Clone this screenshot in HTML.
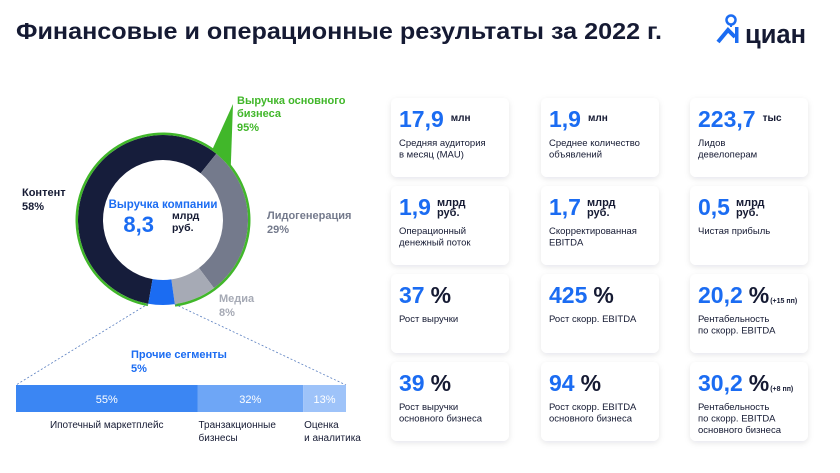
<!DOCTYPE html>
<html><head><meta charset="utf-8"><style>
html,body{margin:0;padding:0;background:#fff;}
svg{display:block;font-family:"Liberation Sans","DejaVu Sans",sans-serif;}
</style></head><body>
<svg id="s" width="840" height="473" viewBox="0 0 840 473" xmlns="http://www.w3.org/2000/svg">
<defs>
<filter id="sh" x="-20%" y="-20%" width="140%" height="140%"><feDropShadow dx="0" dy="2" stdDeviation="3" flood-color="#1a2040" flood-opacity="0.10"/></filter>
</defs>
<text x="16" y="39" font-size="23" font-weight="bold" fill="#151a33" textLength="646" lengthAdjust="spacingAndGlyphs">Финансовые и операционные результаты за 2022 г.</text>
<g>
<circle cx="731" cy="20" r="4.5" fill="none" stroke="#1b6cf2" stroke-width="2.5"/>
<path d="M731 24 L731 27" stroke="#1b6cf2" stroke-width="2"/>
<path d="M718 42 L728 30 L735 37" fill="none" stroke="#1b6cf2" stroke-width="4" stroke-linejoin="miter"/>
<rect x="735" y="27" width="3.5" height="16" fill="#1b6cf2"/>
<text x="745" y="43" font-size="27" fill="#151a33" font-weight="bold" textLength="61" lengthAdjust="spacingAndGlyphs">циан</text>
</g>
<g id="donut"></g>
<g id="bar"></g>
<g id="cards"></g>
</svg>
<script>
const NS='http://www.w3.org/2000/svg';
const segNames=['Контент','Лидогенерация','Медиа','Прочие сегменты'];
const segValues=[58,29,8,5];
const segColors=['#161d3b','#747a8c','#a6aab5','#1b6cf2'];
const subNames=['Ипотечный маркетплейс','Транзакционные бизнесы','Оценка и аналитика'];
const subValues=[55,32,13];
const subColors=['#3b86f3','#6ea6f6','#9ec3f9'];
function mk(t,a,p){const e=document.createElementNS(NS,t);for(const k in a)e.setAttribute(k,a[k]);(p||document.getElementById('s')).appendChild(e);return e;}
function txt(p,x,y,s,size,fill,w,anchor){const e=mk('text',{x:x,y:y,'font-size':size,fill:fill,'font-weight':w||'normal','text-anchor':anchor||'start'},p);e.textContent=s;return e;}
const cx=163,cy=220,r0=60,r1=85;
function pt(r,a){const rad=(a-90)*Math.PI/180;return [cx+r*Math.cos(rad),cy+r*Math.sin(rad)];}
function arc(ri,ro,a0,a1){const l=(a1-a0)>180?1:0;const p1=pt(ro,a0),p2=pt(ro,a1),p3=pt(ri,a1),p4=pt(ri,a0);
return `M${p1} A${ro} ${ro} 0 ${l} 1 ${p2} L${p3} A${ri} ${ri} 0 ${l} 0 ${p4}Z`;}
const dg=document.getElementById('donut');
const total=segValues.reduce((a,b)=>a+b,0);
let a=190;const angs=[];
segValues.forEach((v,i)=>{const sp=v/total*360;angs.push([a,a+sp]);
const p=mk('path',{d:arc(r0,r1,a,a+sp),fill:segColors[i]},dg);


a+=sp;});
const core=angs[0][0],coreEnd=angs[segValues.length-2][1];
const gp=mk('path',{d:arc(r1,r1+2.5,core,coreEnd),fill:'#41b72a'},dg);


const t1=pt(r1+1,core+205),t2=pt(r1+1,core+222);
const cl=mk('path',{d:`M${t1} L233 104 L${t2}Z`,fill:'#41b72a'},dg);


txt(dg,cx,208,'Выручка компании',11.5,'#1b6cf2','bold','middle');
txt(dg,154,232,'8,3',22,'#1b6cf2','bold','end');
txt(dg,172,219,'млрд',10.5,'#151a33','bold');
txt(dg,172,231,'руб.',10.5,'#151a33','bold');
txt(dg,237,104,'Выручка основного',11,'#41b72a','bold');
txt(dg,237,117,'бизнеса',11,'#41b72a','bold');
txt(dg,237,131,'95%',11,'#41b72a','bold');
txt(dg,22,196,'Контент',11,'#151a33','bold');
txt(dg,22,210,'58%',11,'#151a33','bold');
txt(dg,267,219,'Лидогенерация',11,'#747a8c','bold');
txt(dg,267,233,'29%',11,'#747a8c','bold');
txt(dg,219,302,'Медиа',11,'#a6aab5','bold');
txt(dg,219,316,'8%',11,'#a6aab5','bold');
txt(dg,131,358,'Прочие сегменты',11,'#1b6cf2','bold');
txt(dg,131,372,'5%',11,'#1b6cf2','bold');
const bo=angs[3],bp0=pt(r1,bo[0]),bp1=pt(r1,bo[1]);
const bx=16,bw=330,by=385,bh=27;
mk('line',{x1:bp1[0],y1:bp1[1],x2:bx,y2:by,stroke:'#5a7fc0','stroke-width':0.8,'stroke-dasharray':'2,2'},dg);
mk('line',{x1:bp0[0],y1:bp0[1],x2:bx+bw,y2:by,stroke:'#5a7fc0','stroke-width':0.8,'stroke-dasharray':'2,2'},dg);
const bg=document.getElementById('bar');
const st=subValues.reduce((a,b)=>a+b,0);
let x=bx;
const lblY=[[428],[428,441],[428,441]];
const lbls=[['Ипотечный маркетплейс'],['Транзакционные','бизнесы'],['Оценка','и аналитика']];
subValues.forEach((v,i)=>{const w=v/st*bw;
const r=mk('rect',{x:x,y:by,width:w,height:bh,fill:subColors[i]},bg);


txt(bg,x+w/2,by+18,v+'%',11,'#fff','normal','middle');
const lx=i==0?x+w/2:x+1;const an=i==0?'middle':'start';
lbls[i].forEach((s,j)=>txt(bg,lx,lblY[i][j],s,10,'#151a33','normal',an));
x+=w;});
const cardBig=['17,9','1,9','223,7','1,9','1,7','0,5','37','425','20,2','39','94','30,2'];
const cardUnit=[['млн'],['млн'],['тыс'],['млрд','руб.'],['млрд','руб.'],['млрд','руб.'],['%'],['%'],['%'],['%'],['%'],['%']];
const cardNote=['','','','','','','','','(+15 пп)','','','(+8 пп)'];
const cardDesc=[['Средняя аудитория','в месяц (MAU)'],['Среднее количество','объявлений'],['Лидов','девелоперам'],['Операционный','денежный поток'],['Скорректированная','EBITDA'],['Чистая прибыль'],['Рост выручки'],['Рост скорр. EBITDA'],['Рентабельность','по скорр.  EBITDA'],['Рост выручки','основного бизнеса'],['Рост скорр. EBITDA','основного бизнеса'],['Рентабельность','по скорр.  EBITDA','основного бизнеса']];
const cg=document.getElementById('cards');
const colX=[391,541,690],rowY=[98,186,274,362];
cardBig.forEach((b,i)=>{const X=colX[i%3],Y=rowY[Math.floor(i/3)];
const g=mk('g',{},cg);


mk('rect',{x:X,y:Y,width:118,height:79,rx:6,fill:'#fff',filter:'url(#sh)'},g);
const bt=txt(g,X+8,Y+29,b,23,'#1b6cf2','bold');
const bw2=bt.getComputedTextLength();
const u=cardUnit[i];
if(u[0]=='%'){const pc=txt(g,X+8+bw2+6,Y+29,'%',23,'#151a33','bold');
 if(cardNote[i]){txt(g,X+8+bw2+6+pc.getComputedTextLength()+1,Y+29,cardNote[i],7,'#151a33','bold');}}
else if(u.length==1){txt(g,X+8+bw2+7,Y+23,u[0],10,'#151a33','bold');}
else{txt(g,X+8+bw2+6,Y+20,u[0],11,'#151a33','bold');txt(g,X+8+bw2+6,Y+30,u[1],11,'#151a33','bold');}
cardDesc[i].forEach((s,j)=>txt(g,X+8,Y+48+j*11.5,s,9.5,'#151a33'));
});
</script>
</body></html>
